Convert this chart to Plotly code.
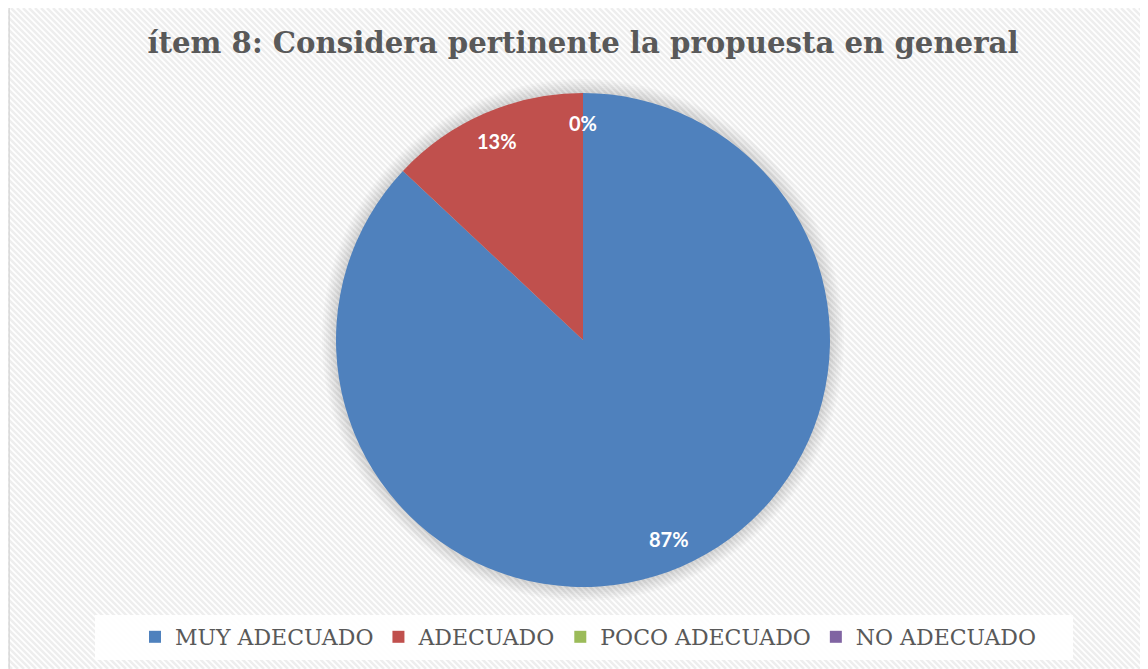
import math
import plotly.graph_objects as go

categories = ["MUY ADECUADO", "ADECUADO", "POCO ADECUADO", "NO ADECUADO"]
values = [87, 13, 0, 0]
colors = ["#4F81BD", "#C0504D", "#9BBB59", "#8064A2"]

# the page body has an 8px margin, so the figure is drawn 8px in
OFF = 8
W, H = 1140, 661
cx, cy, r = 583, 340, 247  # pie centre / radius in screen px


def px_x(v):
    return (v - OFF) / W


def px_y(v):
    return 1 - (v - OFF) / H


fig = go.Figure()

fig.add_trace(go.Pie(
    labels=categories,
    values=values,
    marker=dict(colors=colors, line=dict(width=0)),
    sort=False,
    direction="clockwise",
    rotation=0,
    textinfo="none",
    domain=dict(x=[px_x(cx - r), px_x(cx + r)], y=[px_y(cy + r), px_y(cy - r)]),
    hoverinfo="label+percent",
))

# percentage labels near the rim, like the original (zero slices included)
total = sum(values)
cum = 0
seen = set()
for v in values:
    mid = cum + v / 2
    cum += v
    pct = "%d%%" % round(100 * v / total)
    ang = 2 * math.pi * mid / total
    key = round(mid, 6)
    if key in seen:
        continue
    seen.add(key)
    fig.add_annotation(
        x=px_x(cx + 0.88 * r * math.sin(ang)),
        y=px_y(cy - 0.88 * r * math.cos(ang)),
        xref="paper", yref="paper", showarrow=False,
        xanchor="center", yanchor="middle",
        text=pct,
        font=dict(family="Lato", size=20, color="white", weight="bold"),
    )

shapes = []
# faint diagonal hatch on the chart area
step = 6
segs = []
for k in range(-H - 20, W + 40, step):
    segs.append("M%.5f,%.5f L%.5f,%.5f" % (k / W, 1.0, (k + H) / W, 0.0))
shapes.append(dict(type="path", path=" ".join(segs), xref="paper", yref="paper",
                   line=dict(color="#eeeeee", width=2.5), layer="below"))
# soft shadow behind the pie
for k in range(8):
    rr = r + 14 - 2 * k
    shapes.append(dict(type="circle", xref="paper", yref="paper",
                       x0=px_x(cx - rr), x1=px_x(cx + rr),
                       y0=px_y(cy + rr), y1=px_y(cy - rr),
                       fillcolor="rgba(0,0,0,0.02)", line=dict(width=0), layer="below"))
# white box behind legend
shapes.append(dict(type="rect", xref="paper", yref="paper",
                   x0=px_x(95), x1=px_x(1073), y0=px_y(660), y1=px_y(615),
                   fillcolor="rgba(255,255,255,0.9)", line=dict(width=0), layer="below"))
# outer border (left edge)
shapes.append(dict(type="line", xref="paper", yref="paper",
                   x0=0.001, x1=0.001, y0=0, y1=1,
                   line=dict(color="#d9d9d9", width=1.5), layer="below"))

fig.update_layout(
    width=W,
    height=H,
    margin=dict(l=0, r=0, t=0, b=0),
    paper_bgcolor="white",
    plot_bgcolor="white",
    shapes=shapes,
    title=dict(
        text="<b>ítem 8: Considera pertinente la propuesta en general</b>",
        x=px_x(583), y=px_y(43), xanchor="center", yanchor="middle",
        font=dict(family="DejaVu Serif", size=29.2, color="#595959"),
    ),
    showlegend=True,
    legend=dict(
        orientation="h",
        x=px_x(588), xanchor="center",
        y=px_y(637), yanchor="middle",
        bgcolor="rgba(0,0,0,0)",
        font=dict(family="DejaVu Serif", size=22, color="#595959"),
        traceorder="normal",
    ),
)

fig.write_html("out.html")
